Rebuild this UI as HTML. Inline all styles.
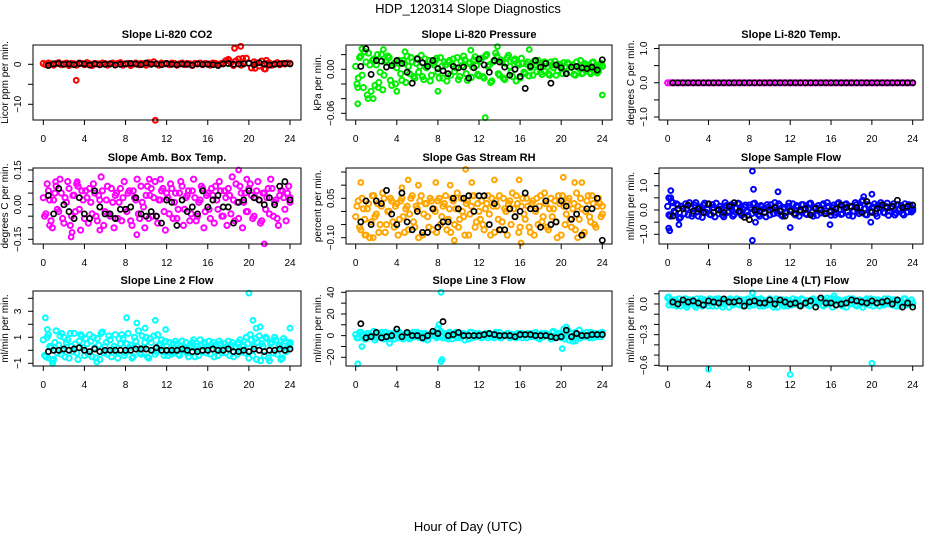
<!DOCTYPE html>
<html><head><meta charset="utf-8"><style>
html,body{margin:0;padding:0;background:#fff;}
svg text{font-family:"Liberation Sans",Arial,sans-serif;}
</style></head><body>
<svg id="chart" width="936" height="540" viewBox="0 0 936 540" xmlns="http://www.w3.org/2000/svg">
<rect x="0" y="0" width="936" height="540" fill="#fff"/>
<text x="468" y="13" font-size="13" text-anchor="middle">HDP_120314  Slope Diagnostics</text>
<text x="468" y="531" font-size="13" text-anchor="middle">Hour of Day (UTC)</text>
</svg>
<script>
// ---------- data (y values; x = hour of day) ----------
const xTicks = [0,4,8,12,16,20,24];
const panelTitles = ["Slope Li-820 CO2","Slope Li-820 Pressure","Slope Li-820 Temp.","Slope Amb. Box Temp.","Slope Gas Stream RH","Slope Sample Flow","Slope Line 2 Flow","Slope Line 3 Flow","Slope Line 4 (LT) Flow"];
const yTitles = ["Licor ppm per min.","kPa per min.","degrees C per min.","degrees C per min.","percent per min.","ml/min per min.","ml/min per min.","ml/min per min.","ml/min per min."];

const co2A = [0.2,-0.1,0.3,0.1,-0.2,0.2,0.4,-0.1,0.1,0.3,-0.3,0.2,0.1,-0.2,0.3,0.2,-0.1,0.4,0.1,-0.3,0.2,0.1,-0.1,0.3,0.2,-0.2,0.1,0.3,-0.1,0.2,0.4,-0.2,0.1,0.2,-0.3,0.1,0.3,-0.1,0.2,0.1,-0.2,0.4,0.2,0.6,0.1,-0.2,0.3,0.1,0.2,-0.1,0.3,0.2,-0.2,0.1,0.3,-0.1,0.2,0.1,-0.3,0.2,0.1,0.3,-0.1,0.2,0.1,-0.2,0.3,0.2,-0.1,0.1,0.3,0.9,1.2,0.4,-0.3,0.8,1.3,-0.2,0.5,1.5,0.2,-0.9,0.6,0.3,-0.4,0.8,-1.1,0.2,0.3,-0.2,0.1,0.4,-0.1,0.2,0.1,0.3,0.2];
const co2OutX = [18.6,19.2,19.4,18.1,20.6,21.6,21.7,3.2,10.9];
const co2OutY = [4.0,4.5,1.5,1.0,-1.0,-1.2,1.0,-4.0,-14.0];
const co2Black = [-0.3,0.1,0.2,0.0,0.1,-0.1,0.2,0.1,-0.2,0.1,-0.1,0.0,0.1,-0.2,0.0,0.1,0.2,0.1,-0.1,0.3,0.0,0.1,-0.1,0.2,0.0,-0.1,0.1,0.0,-0.2,0.1,0.0,0.0,-0.1,-0.3,0.1,0.2,0.0,0.1,0.1,0.3,-0.1,0.4,0.1,-0.2,0.0,0.1,0.2,0.1];

const presA = [0.004,-0.012,0.018,-0.025,0.010,0.022,-0.030,0.014,0.006,-0.018,0.020,-0.008,0.012,0.016,-0.022,0.008,0.002,0.012,-0.015,0.008,0.018,-0.006,0.010,-0.012,0.015,0.004,-0.010,0.014,0.006,-0.016,0.009,0.012,-0.004,0.016,-0.012,0.006,0.010,-0.008,0.014,0.002,-0.014,0.011,0.018,-0.006,0.008,-0.011,0.013,0.005,-0.009,0.015,-0.012,0.020,0.006,-0.016,0.012,0.018,-0.008,0.010,-0.014,0.016,0.004,-0.010,0.014,0.008,-0.012,0.008,-0.006,0.010,0.002,-0.008,0.006,0.012,-0.004,0.004,0.008,-0.006,0.010,0.002,-0.008,0.006,0.004,0.009,-0.005,0.007,0.003,-0.007,0.010,0.001,-0.006,0.008,0.005,-0.004,0.009,0.002,-0.005,0.006,0.004];
const presB = [-0.020,0.016,-0.008,0.024,-0.035,0.006,0.012,-0.022,0.020,-0.004,-0.028,0.010,0.018,-0.015,0.005,-0.020,0.012,-0.006,0.012,-0.018,0.004,0.016,-0.010,0.008,-0.004,0.019,-0.014,0.002,0.012,-0.008,0.006,0.015,-0.012,0.004,0.010,-0.016,0.012,0.007,-0.003,0.016,-0.010,0.005,0.013,-0.015,0.009,0.003,0.017,-0.007,0.011,-0.010,0.018,0.004,-0.018,0.010,0.022,-0.006,0.013,-0.012,0.008,0.019,-0.004,0.012,-0.016,0.006,0.015,-0.004,0.007,-0.009,0.005,0.011,-0.003,0.008,-0.007,0.010,0.003,-0.008,0.006,0.011,-0.002,0.007,-0.006,0.004,0.009,-0.004,0.006,-0.008,0.003,0.012,-0.005,0.007,0.002,-0.006,0.010,0.004,-0.003,0.008,0.005];
const presOutX = [0.2,0.2,1.7,12.6,24,13.8,0.6,2.7,16.9,4.8,11.2,1.2,2.2,4.0,8.0];
const presOutY = [-0.047,-0.025,-0.040,-0.066,-0.035,0.031,0.028,0.027,0.027,0.024,0.026,-0.040,-0.025,-0.030,-0.030];
const presBlack = [0.004,0.028,-0.007,0.012,0.011,0.003,0.005,0.012,0.008,-0.004,-0.019,0.014,0.009,0.004,0.012,0.001,-0.002,-0.006,0.004,0.002,0.003,-0.012,0.002,0.014,0.006,-0.004,0.012,0.010,0.003,-0.008,0.000,-0.010,-0.026,0.004,0.012,0.003,0.008,-0.019,0.006,0.002,-0.006,0.003,0.004,0.002,0.001,0.003,-0.001,0.013];

const tempA = [0,0,0,0,0,0,0,0,0,0,0,0,0,0,0,0,0,0,0,0,0,0,0,0,0,0,0,0,0,0,0,0,0,0,0,0,0,0,0,0,0,0,0,0,0,0,0,0,0,0,0,0,0,0,0,0,0,0,0,0,0,0,0,0,0,0,0,0,0,0,0,0,0,0,0,0,0,0,0,0,0,0,0,0,0,0,0,0,0,0,0,0,0,0,0,0,0];
const tempBlack = [0,0,0,0,0,0,0,0,0,0,0,0,0,0,0,0,0,0,0,0,0,0,0,0,0,0,0,0,0,0,0,0,0,0,0,0,0,0,0,0,0,0,0,0,0,0,0,0];

const ambA = [0.03,-0.04,0.06,-0.07,0.02,0.08,-0.03,0.05,-0.08,0.01,0.07,-0.05,0.04,0.09,-0.02,0.06,-0.06,0.03,0.07,-0.04,0.05,-0.07,0.02,0.06,-0.03,0.08,-0.05,0.01,0.04,-0.06,0.07,0.03,-0.02,0.05,-0.07,0.06,0.02,-0.04,0.08,-0.01,0.04,-0.06,0.07,0.03,-0.05,0.02,0.06,-0.03,0.05,-0.04,0.07,0.01,-0.06,0.05,0.08,-0.02,0.04,-0.07,0.06,0.03,-0.05,0.02,0.07,-0.03,0.05,-0.06,0.04,0.08,-0.02,0.06,-0.05,0.03,0.07,-0.04,0.02,0.09,-0.06,0.05,0.01,-0.03,0.07,0.04,-0.05,0.06,0.02,-0.07,0.05,0.03,-0.04,0.07,0.01,-0.06,0.04,0.06,-0.02,0.05,0.03];
const ambB = [-0.05,0.09,0.02,-0.10,0.05,-0.02,0.11,-0.06,0.03,0.10,-0.09,0.04,-0.03,0.08,-0.11,0.02,0.06,-0.08,0.01,0.09,-0.05,0.04,0.12,-0.09,0.02,-0.04,0.07,-0.10,0.05,0.01,-0.07,0.10,-0.03,0.06,-0.09,0.03,0.11,-0.06,0.01,-0.10,0.08,0.04,-0.05,0.10,-0.08,0.02,0.07,-0.11,0.03,0.09,-0.06,0.05,-0.02,0.10,-0.09,0.03,0.06,-0.04,0.11,-0.07,0.01,0.08,-0.10,0.04,-0.02,0.07,-0.08,0.02,0.10,-0.05,0.06,-0.09,0.04,0.12,-0.07,0.01,0.08,-0.10,0.05,-0.03,0.09,-0.06,0.03,0.10,-0.08,0.05,-0.02,0.07,0.11,-0.05,0.02,-0.09,0.06,0.03,-0.07,0.08,0.01];
const ambOutX = [0.6,2.8,2.7,5.5,9.1,19.0,21.5,10.3,11.4,19.8,1.2,3.3];
const ambOutY = [-0.09,-0.12,-0.14,-0.11,-0.13,0.15,-0.17,0.11,0.11,0.11,0.10,0.10];
const ambBlack = [0.04,-0.04,0.07,0.00,-0.03,-0.06,0.03,-0.04,-0.06,0.06,-0.01,-0.04,-0.04,-0.06,-0.02,-0.02,-0.01,0.03,-0.04,-0.05,-0.03,-0.05,-0.08,0.02,0.01,-0.09,0.02,-0.03,-0.01,-0.04,0.06,-0.01,0.02,0.04,-0.01,-0.01,-0.08,0.01,0.02,0.06,0.03,0.02,0.00,0.03,0.00,0.08,0.10,0.02];

const rhA = [-0.02,0.04,-0.07,0.01,-0.09,0.03,-0.04,0.06,-0.01,-0.08,0.02,0.05,-0.05,0.00,0.04,-0.06,0.03,-0.03,0.05,-0.08,0.02,-0.01,0.06,-0.06,0.01,0.04,-0.09,0.03,-0.02,0.05,-0.07,0.00,0.04,-0.05,0.02,0.06,-0.03,-0.08,0.04,0.01,-0.06,0.05,-0.02,0.03,-0.09,0.02,0.06,-0.04,0.00,0.04,-0.07,0.03,-0.01,0.05,-0.08,0.02,0.06,-0.04,0.01,-0.09,0.04,0.07,-0.02,0.03,-0.06,0.05,-0.03,0.02,-0.08,0.04,0.00,-0.05,0.06,-0.02,0.03,-0.07,0.05,0.01,-0.04,0.06,-0.09,0.02,-0.01,0.05,-0.06,0.03,0.07,-0.03,0.01,-0.08,0.04,-0.02,0.06,-0.05,0.02,0.03,-0.01];
const rhB = [0.02,-0.06,0.05,-0.03,0.01,-0.10,0.06,-0.02,0.03,-0.05,0.07,-0.08,0.00,0.05,-0.04,0.02,-0.09,0.04,-0.02,0.01,-0.07,0.05,-0.04,0.02,-0.10,0.06,-0.01,0.03,-0.06,0.04,0.01,-0.08,0.05,-0.02,0.03,-0.07,0.01,0.05,-0.05,0.07,-0.03,0.00,-0.09,0.04,-0.01,0.06,-0.06,0.03,-0.03,-0.05,0.01,0.06,-0.09,0.02,0.04,-0.03,-0.07,0.05,0.00,0.03,-0.05,0.01,0.06,-0.08,0.02,-0.01,0.05,-0.06,0.03,-0.09,0.05,0.02,-0.04,0.07,-0.06,0.01,-0.02,0.04,-0.10,0.03,0.06,-0.05,0.04,-0.03,0.01,-0.07,0.02,0.05,-0.09,0.00,0.06,-0.04,0.03,-0.06,0.05,-0.02,0.02];
const rhOutX = [0.5,10.7,5.1,7.8,9.2,11.3,13.5,15.9,20.2,21.3,22.0,6.1,4.5,0.9,1.7,16.1,21.6,9.6];
const rhOutY = [0.11,0.16,0.12,0.11,0.10,0.11,0.12,0.12,0.13,0.11,0.11,0.10,0.09,-0.09,-0.10,-0.12,-0.10,-0.11];
const rhBlack = [-0.04,0.04,-0.05,0.04,0.03,0.08,-0.01,-0.05,0.07,-0.04,-0.07,0.00,-0.08,-0.08,0.01,-0.06,-0.04,-0.04,0.05,0.01,0.05,0.06,0.00,0.06,0.06,-0.05,0.03,-0.07,-0.07,0.01,-0.02,0.00,0.07,0.01,0.01,-0.06,0.04,-0.05,-0.04,0.04,0.02,-0.03,-0.01,-0.09,0.01,0.01,0.05,-0.11];

const flowA = [0.15,-0.25,0.30,-0.10,0.20,-0.30,0.05,0.25,-0.20,0.10,-0.15,0.30,-0.25,0.00,0.20,-0.10,0.25,-0.20,0.10,0.28,-0.15,0.05,-0.28,0.18,-0.05,0.22,-0.18,0.08,0.25,-0.22,0.12,-0.08,0.20,-0.15,0.28,0.02,-0.25,0.15,-0.10,0.22,-0.20,0.05,0.30,-0.12,0.18,-0.25,0.08,0.15,-0.05,0.25,-0.20,0.12,-0.08,0.22,-0.15,0.05,0.28,-0.25,0.10,0.18,-0.12,0.25,-0.05,0.15,-0.22,0.20,-0.10,0.30,-0.18,0.08,0.25,-0.22,0.12,-0.05,0.22,-0.15,0.35,0.05,-0.20,0.18,-0.08,0.25,-0.25,0.10,0.20,-0.12,0.28,-0.05,0.15,-0.20,0.22,0.05,-0.15,0.25,-0.08,0.18,-0.02];
const flowB = [-0.20,0.35,-0.05,0.25,-0.35,0.15,-0.15,0.05,0.30,-0.25,0.20,-0.08,0.12,-0.30,0.28,0.02,-0.18,0.22,-0.28,0.05,0.15,-0.20,0.30,-0.10,0.18,-0.25,0.08,0.28,-0.12,0.02,0.20,-0.22,0.10,0.25,-0.08,-0.18,0.18,0.05,-0.28,0.12,0.22,-0.15,-0.02,0.25,-0.20,0.10,-0.10,0.28,0.00,-0.15,0.18,-0.25,0.22,0.05,-0.18,0.25,-0.10,0.12,-0.22,0.05,0.20,-0.15,0.30,-0.08,0.10,-0.20,0.25,0.02,-0.15,0.22,-0.08,0.15,-0.25,0.30,-0.05,0.10,0.40,-0.18,0.22,-0.05,0.12,-0.15,0.20,0.30,-0.10,0.15,-0.22,0.08,0.25,-0.12,0.02,0.18,-0.20,0.10,0.22,-0.08,0.05];
const flowOutX = [8.3,8.4,0.3,10.8,0.1,0.3,20,19.2,0.1,0.2,1.1,8.3,12,15.9,19.9,8.6];
const flowOutY = [1.6,0.85,0.8,0.75,0.5,0.5,0.65,0.55,-0.75,-0.85,-0.6,-1.25,-0.72,-0.6,-0.5,-0.5];
const flowBlack = [-0.25,0.05,0.05,0.20,-0.05,0.05,-0.10,0.25,-0.10,0.00,-0.10,0.15,0.30,-0.05,-0.30,-0.40,0.00,-0.05,-0.10,0.00,0.10,-0.05,-0.25,-0.05,-0.15,0.00,0.05,-0.20,0.05,0.00,-0.15,-0.05,0.05,0.20,0.10,0.15,0.10,-0.10,0.35,-0.10,0.05,0.20,0.10,0.15,0.40,0.10,0.15,0.20];

const line2A = [0.8,-0.5,1.2,0.2,-0.7,1.5,0.4,-0.3,1.0,0.6,-0.6,0.3,1.3,-0.2,0.7,1.1,-0.4,0.5,1.2,-0.5,0.2,0.9,-0.7,1.4,0.3,-0.3,0.8,0.1,1.2,-0.6,0.5,0.9,-0.2,1.3,0.4,-0.5,0.7,1.5,-0.3,0.2,1.0,-0.6,0.6,1.1,-0.1,0.4,0.8,-0.4,0.3,0.6,-0.3,0.2,0.5,-0.4,0.7,0.1,-0.2,0.4,0.6,-0.5,0.3,0.8,-0.1,0.5,0.2,-0.3,0.6,0.3,-0.4,0.5,0.1,-0.2,0.7,0.4,-0.5,0.2,0.6,-0.1,0.3,1.0,-0.6,0.8,0.3,-0.7,1.1,0.5,-0.4,0.9,-0.8,0.6,1.0,-0.3,0.4,-0.6,0.7,0.2,0.5];
const line2B = [-0.4,1.0,0.3,-0.8,0.6,-0.2,1.1,0.0,-0.5,0.8,1.3,-0.1,0.5,-0.7,1.2,0.2,0.9,-0.3,0.7,1.0,-0.6,0.4,1.3,-0.2,0.6,1.1,-0.5,0.3,-0.1,0.9,1.2,-0.4,0.5,0.2,-0.6,1.0,0.3,-0.2,1.1,0.6,-0.5,0.9,0.0,-0.3,1.2,0.5,-0.1,0.7,-0.4,-0.2,0.5,0.7,-0.3,0.3,0.0,0.6,-0.5,0.2,0.8,0.1,-0.4,0.4,0.6,-0.2,0.7,0.4,-0.5,0.1,0.7,-0.2,0.5,0.3,-0.4,0.6,0.2,-0.3,0.8,0.4,-0.2,0.5,1.2,-0.4,0.9,0.6,-0.8,0.3,1.0,-0.6,0.5,-0.2,0.8,0.3,-0.7,0.9,-0.1,0.4,0.6];
const line2OutX = [0.2,8.1,20,20.4,24,10.9,9.1,0.4,1.8,11.9,5.2,0.9,21.1,9.9,20.7,0.5];
const line2OutY = [2.5,2.5,4.4,2.3,1.7,2.3,2.1,1.6,1.3,1.6,-0.9,-1.0,1.8,1.7,1.7,-0.6];
const line2Black = [-0.1,0.0,0.0,0.1,0.0,0.1,0.2,0.0,-0.1,0.1,-0.1,0.0,0.0,0.0,0.0,0.0,0.0,0.1,0.1,0.1,0.0,0.2,0.0,0.0,0.0,0.0,0.1,0.0,-0.1,-0.1,0.0,0.0,0.1,0.0,0.0,0.1,-0.1,-0.1,0.0,-0.1,0.1,0.0,-0.1,0.0,0.0,0.1,0.0,0.1];

const line3A = [1,-2,3,0,-3,2,-1,4,-2,1,3,-3,0,2,-1,-3,1,3,-2,0,2,-3,1,-1,3,-2,0,2,-4,1,3,-1,0,4,-2,1,-3,2,0,3,-1,-2,2,1,-3,3,0,-1,2,-2,1,0,2,-1,-2,1,3,-1,0,2,-2,1,-1,2,0,-2,1,2,-1,0,3,-2,1,-1,2,0,-3,4,-1,2,-2,6,3,-4,2,0,-2,5,1,-1,3,-2,0,2,-1,1,3];
const line3B = [-2,3,1,-3,2,0,-1,-4,2,1,-2,3,-1,2,0,3,-2,1,-3,2,0,-2,3,-1,1,2,-3,0,-1,2,1,-2,3,0,2,-1,3,-3,1,-2,2,0,-4,1,3,-2,2,0,1,-1,2,-2,1,0,3,-1,-2,1,0,2,-1,1,-2,0,2,1,-2,0,2,-1,1,-3,2,0,1,-1,3,-2,0,2,-1,-3,5,2,-5,3,1,-2,2,0,-1,3,-2,1,2,-1,2];
const line3OutX = [8.3,0.2,8.3,8.4,0.6,20.1,8.1,20.5,3.3,8.0,21.4];
const line3OutY = [40,-26,-24,-22,-10,-12,10,8,-7,7,-5];
const line3Black = [11,-2,-1,3,-2,-1,0,6,-1,3,0,0,-2,0,4,2,13,0,1,3,0,0,0,0,1,2,1,0,0,0,-1,1,1,1,0,0,0,-1,-2,-1,5,-1,2,0,0,1,1,1];

const line4A = [0.06,0.02,-0.01,0.04,0.00,-0.02,0.03,0.05,-0.01,0.02,0.04,-0.03,0.01,0.05,0.00,0.03,-0.02,0.04,0.01,-0.02,0.05,0.02,0.00,0.04,-0.03,0.03,0.01,0.05,-0.01,0.02,0.04,0.00,-0.02,0.03,0.05,0.01,-0.02,0.04,0.02,-0.01,0.05,0.00,0.03,-0.03,0.02,0.04,0.01,-0.02,0.03,0.05,0.00,0.02,-0.02,0.04,0.01,0.03,-0.01,0.05,0.02,0.00,0.04,-0.02,0.03,0.01,0.05,0.02,-0.01,0.04,0.00,0.03,-0.03,0.05,0.01,0.02,-0.02,0.04,0.03,0.00,0.05,-0.01,0.02,0.04,0.01,-0.02,0.03,0.05,0.00,0.02,-0.01,0.04,0.03,-0.02,0.01,0.05,0.02,0.00,0.01];
const line4B = [-0.01,0.04,0.03,-0.02,0.05,0.01,0.00,-0.03,0.04,0.02,-0.01,0.05,0.03,-0.02,0.04,0.01,0.05,-0.02,0.03,0.05,0.00,-0.03,0.04,0.02,0.05,-0.01,0.03,0.00,0.04,-0.02,0.01,0.05,0.03,-0.01,0.02,0.04,0.05,-0.02,0.00,0.04,0.01,-0.03,0.05,0.02,0.00,-0.02,0.04,0.03,-0.01,0.02,0.04,-0.01,0.05,0.00,0.03,-0.02,0.04,0.01,0.03,0.05,-0.01,0.02,0.00,0.04,-0.03,0.05,0.03,0.01,-0.02,0.04,0.02,0.00,0.05,-0.01,0.03,0.01,-0.03,0.04,0.02,0.05,-0.02,0.01,0.04,0.03,-0.01,0.00,0.05,0.02,0.04,-0.02,0.01,0.03,0.05,-0.01,0.02,0.04,0.00];
const line4OutX = [4,12,20,8.3,0.1,16.3,4.7,15.6];
const line4OutY = [-0.64,-0.69,-0.58,0.11,0.07,0.08,0.05,0.06];
const line4Black = [0.02,0.00,0.04,0.02,0.03,0.01,-0.01,0.03,0.02,0.01,0.05,0.02,0.02,0.03,-0.02,0.02,0.03,0.01,0.01,0.04,0.00,0.04,0.02,0.00,0.01,-0.02,0.01,0.03,-0.03,0.06,0.01,0.01,-0.01,0.00,0.01,0.04,0.03,0.02,0.01,0.03,0.01,0.02,0.03,0.00,0.04,-0.03,0.01,-0.03];

const yTicks = [[-10,-5,0],[-0.06,-0.04,-0.02,0,0.02],[-1,-0.5,0,0.5,1],[-0.15,-0.10,-0.05,0,0.05,0.10,0.15],[-0.10,-0.05,0,0.05,0.10,0.15],[-1,-0.5,0,0.5,1,1.5],[-1,0,1,2,3,4],[-20,-10,0,10,20,30,40],[-0.6,-0.5,-0.4,-0.3,-0.2,-0.1,0,0.1]];
const yLabels = [[[-10,"\u221210"],[0,"0"]],[[-0.06,"\u22120.06"],[0,"0.00"]],[[-1,"\u22121.0"],[0,"0.0"],[1,"1.0"]],[[-0.15,"\u22120.15"],[0,"0.00"],[0.15,"0.15"]],[[-0.10,"\u22120.10"],[0.05,"0.05"]],[[-1,"\u22121.0"],[0,"0.0"],[1,"1.0"]],[[-1,"\u22121"],[1,"1"],[3,"3"]],[[-20,"\u221220"],[0,"0"],[20,"20"],[40,"40"]],[[-0.6,"\u22120.6"],[-0.3,"\u22120.3"],[0,"0.0"]]];

// ---------- layout ----------
const cols = [{l:33,r:301,x0:43.3,x24:290},{l:346,r:612,x0:355.7,x24:602.3},{l:659,r:923,x0:667.7,x24:912.7}];
const rows = [{t:45,b:120,ty:38,xl:142},{t:168,b:244,ty:161,xl:266},{t:291,b:366,ty:284,xl:388}];
const ycal = [[0,64.3,-10,104.3],[0,69.3,-0.06,113.3],[1,48.5,-1,117],[0.15,170,-0.15,239.3],[0.05,198.3,-0.10,237.7],[1,185.7,-1,234.3],[3,311.3,-1,363.3],[40,292.3,-20,357.3],[0,304,-0.6,365.3]];
const colors = ["#ff0000","#00ee00","#ff00ff","#ff00ff","#ffa500","#0000ff","#00ffff","#00ffff","#00ffff"];
const series = [[co2A],[presA,presB],[tempA],[ambA,ambB],[rhA,rhB],[flowA,flowB],[line2A,line2B],[line3A,line3B],[line4A,line4B]];
const outX = [co2OutX,presOutX,[],ambOutX,rhOutX,flowOutX,line2OutX,line3OutX,line4OutX];
const outY = [co2OutY,presOutY,[],ambOutY,rhOutY,flowOutY,line2OutY,line3OutY,line4OutY];
const blacks = [co2Black,presBlack,tempBlack,ambBlack,rhBlack,flowBlack,line2Black,line3Black,line4Black];

const NS = "http://www.w3.org/2000/svg";
const svg = document.getElementById("chart");
function mk(tag, attrs, parent){const e=document.createElementNS(NS,tag);for(const k in attrs)e.setAttribute(k,attrs[k]);(parent||svg).appendChild(e);return e;}

for(let p=0;p<9;p++){
  const c=cols[p%3], r=rows[Math.floor(p/3)], yc=ycal[p];
  const xs = v => c.x0 + (c.x24-c.x0)*v/24;
  const ys = v => yc[1] + (yc[3]-yc[1])*(v-yc[0])/(yc[2]-yc[0]);
  const g = mk("g",{});
  
  
  const title = mk("text",{x:(c.l+c.r)/2,y:r.ty,"font-size":"11","font-weight":"bold","text-anchor":"middle"},g);
  title.textContent = panelTitles[p];
  
  
  const pts = mk("g",{fill:"none",stroke:colors[p],"stroke-width":"2"},g);
  
  
  series[p].forEach((arr,si)=>{
    const n=arr.length;
    arr.forEach((v,i)=>{
      const hx = (i + (si===1?0.5:0)) * 24/(n-1);
      const cx = xs(Math.min(hx,24));
      const dot = mk("circle",{cx:cx.toFixed(1),cy:ys(v).toFixed(1),r:"2.6"},pts);
      
      
    });
  });
  outX[p].forEach((hx,i)=>{
    const dot = mk("circle",{cx:xs(hx).toFixed(1),cy:ys(outY[p][i]).toFixed(1),r:"2.4"},pts);
    
    
  });
  const bk = mk("g",{fill:"none",stroke:"#000","stroke-width":"1.7"},g);
  
  
  blacks[p].forEach((v,i)=>{
    const dot = mk("circle",{cx:xs((i+1)*0.5).toFixed(1),cy:ys(v).toFixed(1),r:"2.6"},bk);
    
    
  });
  const box = mk("rect",{x:c.l,y:r.t,width:c.r-c.l,height:r.b-r.t,fill:"none",stroke:"#000","stroke-width":"1"},g);
  
  
  xTicks.forEach(t=>{
    const x=xs(t);
    mk("line",{x1:x,x2:x,y1:r.b,y2:r.b+5,stroke:"#000"},g);
    const tl = mk("text",{x:x,y:r.xl,"font-size":"10","text-anchor":"middle"},g);
    tl.textContent = t;
    
    
  });
  yTicks[p].forEach(t=>{
    const y=ys(t);
    mk("line",{x1:c.l-5,x2:c.l,y1:y,y2:y,stroke:"#000"},g);
  });
  yLabels[p].forEach(([v,s])=>{
    const y=ys(v), x=c.l-12;
    const tl = mk("text",{x:x,y:y,"font-size":"10","text-anchor":"middle",transform:`rotate(-90 ${x} ${y})`},g);
    tl.textContent = s;
    
    
  });
  const ym=(r.t+r.b)/2, xt=c.l-25;
  const yt = mk("text",{x:xt,y:ym,"font-size":"10","text-anchor":"middle",transform:`rotate(-90 ${xt} ${ym})`},g);
  yt.textContent = yTitles[p];
  
  
}
</script>
</body></html>
